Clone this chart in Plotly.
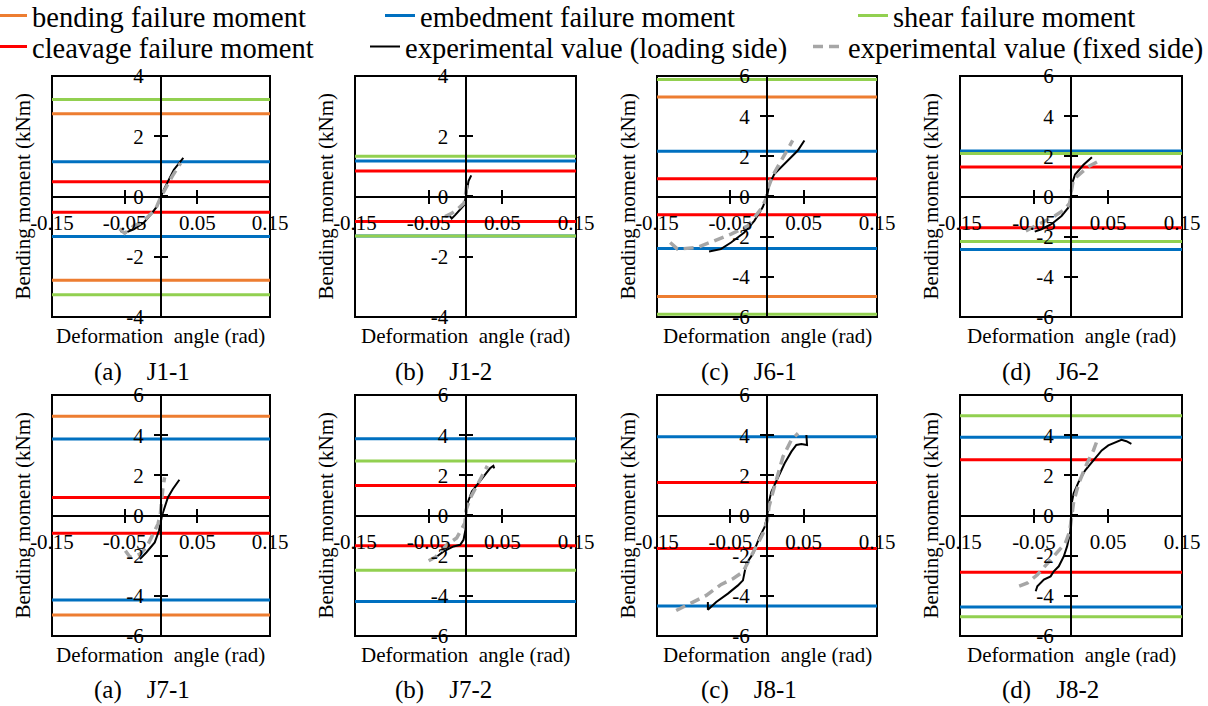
import plotly.graph_objects as go

W, H = 1208, 706
FONT = "Times New Roman, Liberation Serif, serif"

# ---------------- data ----------------
panel_captions = ["(a)\u00a0\u00a0\u00a0\u00a0J1-1", "(b)\u00a0\u00a0\u00a0\u00a0J1-2",
                  "(c)\u00a0\u00a0\u00a0\u00a0J6-1", "(d)\u00a0\u00a0\u00a0\u00a0J6-2",
                  "(a)\u00a0\u00a0\u00a0\u00a0J7-1", "(b)\u00a0\u00a0\u00a0\u00a0J7-2",
                  "(c)\u00a0\u00a0\u00a0\u00a0J8-1", "(d)\u00a0\u00a0\u00a0\u00a0J8-2"]
y_limits = [4, 4, 6, 6, 6, 6, 6, 6]
x_tick_vals = [-0.15, -0.05, 0.05, 0.15]
x_tick_text = ["-0.15", "-0.05", "0.05", "0.15"]

bending_pos = [2.75, None, 4.95, None, 4.94, None, None, None]
bending_neg = [-2.78, None, -4.98, None, -4.95, None, None, None]
embedment_pos = [1.15, 1.18, 2.25, 2.26, 3.81, 3.82, 3.92, 3.90]
embedment_neg = [-1.33, -1.31, -2.59, -2.64, -4.21, -4.28, -4.50, -4.55]
shear_pos = [3.22, 1.34, 5.82, 2.14, None, 2.71, None, 4.97]
shear_neg = [-3.26, -1.31, -5.86, -2.24, None, -2.72, None, -5.04]
cleavage_pos = [0.49, 0.85, 0.89, 1.47, 0.90, 1.50, 1.64, 2.78]
cleavage_neg = [-0.52, -0.83, -0.91, -1.55, -0.89, -1.51, -1.64, -2.83]

loading_x = [
    [-0.056, -0.049, -0.0376, -0.0237, -0.0122, -0.0053, 0, 0.0039, 0.0108, 0.0177, 0.0307],
    [-0.0223, -0.0187, -0.0141, -0.0073, -0.0018, 0.0005, 0.0018, 0.0041, 0.0078],
    [-0.079, -0.063, -0.049, -0.031, -0.0173, -0.0059, 0, 0.0032, 0.010, 0.019, 0.033, 0.042, 0.051],
    [-0.049, -0.040, -0.0265, -0.0128, -0.0037, 0, 0.0009, 0.0055, 0.0169, 0.0283],
    [-0.029, -0.0199, -0.0086, -0.0027, 0.0014, 0.005, 0.0095, 0.0163, 0.0253],
    [-0.0477, -0.0387, -0.0297, -0.0162, -0.0072, -0.0027, 0, 0.0005, 0.0027, 0.0086, 0.0176, 0.0279, 0.0333, 0.0378, 0.039],
    [-0.0806, -0.0806, -0.0692, -0.0533, -0.0396, -0.0328, -0.0282, -0.0191, -0.010, -0.0032, 0, 0.0027, 0.0059, 0.015, 0.0241, 0.0332, 0.040, 0.0469, 0.0546, 0.0537],
    [-0.0477, -0.0455, -0.0366, -0.0276, -0.0232, -0.0165, -0.0098, -0.0053, -0.0009, 0.0004, 0.0013, 0.0036, 0.0103, 0.0192, 0.0303, 0.0415, 0.0504, 0.0593, 0.0682, 0.0749, 0.0816],
]
loading_y = [
    [-1.15, -1.20, -1.09, -0.87, -0.54, -0.32, 0, 0.23, 0.56, 0.89, 1.28],
    [-0.62, -0.73, -0.62, -0.45, -0.28, 0, 0.22, 0.51, 0.70],
    [-2.74, -2.62, -2.29, -1.79, -1.21, -0.54, 0, 0.62, 1.12, 1.46, 1.96, 2.29, 2.79],
    [-1.75, -1.63, -1.38, -0.97, -0.56, 0, 0.59, 1.09, 1.58, 1.96],
    [-2.17, -1.83, -1.34, -0.75, 0, 0.41, 0.90, 1.32, 1.78],
    [-2.20, -2.04, -1.79, -1.54, -1.46, -1.21, -0.71, -0.05, 0.61, 1.19, 1.61, 2.07, 2.35, 2.47, 2.35],
    [-4.31, -4.69, -4.31, -3.89, -3.48, -3.23, -2.40, -1.90, -1.06, -0.57, -0.07, 0.68, 1.18, 1.85, 2.60, 3.18, 3.51, 3.56, 3.51, 4.01],
    [-3.77, -3.52, -3.19, -3.03, -2.78, -2.53, -2.04, -1.54, -0.80, -0.06, 0.68, 1.10, 1.67, 2.25, 2.75, 3.24, 3.49, 3.65, 3.77, 3.70, 3.57],
]
fixed_x = [
    [-0.057, -0.050, -0.0376, -0.026, -0.017, -0.0076, -0.0007, 0.0062, 0.0154, 0.027],
    [-0.0278, -0.0187, -0.0096, -0.0018, 0, 0.0018],
    [-0.132, -0.122, -0.095, -0.072, -0.049, -0.026, -0.0173, -0.0082, -0.0014, 0.0018, 0.0078, 0.0169, 0.028, 0.035],
    [-0.061, -0.049, -0.0357, -0.022, -0.0082, -0.0014, 0, 0.0032, 0.0238, 0.0366],
    [-0.049, -0.0425, -0.029, -0.0199, -0.0109, -0.0041, -0.0009, 0.0005, 0.0027, 0.005],
    [-0.050, -0.040, -0.025, -0.012, -0.0009, 0.0009, 0.0063, 0.0153, 0.0221, 0.0297],
    [-0.1238, -0.1147, -0.0988, -0.0828, -0.0624, -0.0464, -0.0328, -0.0214, -0.0146, -0.0055, 0.0005, 0.0027, 0.0082, 0.0218, 0.0332, 0.0423],
    [-0.070, -0.0588, -0.0455, -0.0321, -0.0187, -0.0076, -0.0018, 0.0009, 0.0036, 0.0103, 0.0214, 0.0303, 0.037],
]
fixed_y = [
    [-1.07, -1.22, -0.98, -0.85, -0.65, -0.43, -0.04, 0.29, 0.67, 1.11],
    [-0.67, -0.56, -0.39, -0.22, 0.06, 0.39],
    [-2.29, -2.62, -2.54, -2.20, -1.87, -1.46, -1.04, -0.62, -0.12, 0.46, 1.04, 1.62, 2.37, 2.79],
    [-1.71, -1.47, -1.25, -0.97, -0.64, -0.31, 0.18, 0.84, 1.50, 1.75],
    [-1.75, -2.08, -1.92, -1.58, -0.92, -0.42, 0.07, 0.74, 1.40, 1.90],
    [-2.25, -2.05, -1.45, -1.12, -0.38, 0.28, 0.86, 1.44, 1.94, 2.47],
    [-4.73, -4.56, -4.23, -3.98, -3.43, -3.15, -2.81, -1.98, -1.56, -0.90, -0.23, 0.43, 1.18, 2.93, 3.76, 4.09],
    [-3.52, -3.36, -2.95, -2.37, -1.79, -1.37, -0.80, -0.06, 0.68, 1.59, 2.58, 3.24, 3.90],
]

series_names = ["bending failure moment", "embedment failure moment", "shear failure moment",
                "cleavage failure moment", "experimental value (loading side)",
                "experimental value (fixed side)"]
series_colors = ["#ED7D31", "#0070C0", "#92D050", "#FF0000", "#000000", "#A6A6A6"]

# ---------------- layout geometry (px) ----------------
col_px = [(52, 270), (355, 576), (657, 877), (960, 1182)]
row_px = [(76, 317), (395, 636)]
caption_y_px = [372, 690]
caption_x_px = [142, 443, 749, 1050]


def fx(px):
    return px / W


def fy(py):
    return 1 - py / H


fig = go.Figure()
layout = dict(
    width=W, height=H, margin=dict(l=0, r=0, t=0, b=0, pad=0, autoexpand=False),
    paper_bgcolor="white", plot_bgcolor="white", template="none",
    font=dict(family=FONT, color="black"),
    annotations=[], shapes=[],
)

legend_names = ["legend", "legend2", "legend3", "legend4", "legend5", "legend6"]
legend_text_x_px = [32, 420, 893, 32, 405, 848]
legend_y_px = [16, 16, 16, 47, 47, 47]
for k, ln in enumerate(legend_names):
    layout[ln] = dict(
        x=fx(legend_text_x_px[k] - 40), y=fy(legend_y_px[k]), xanchor="left", yanchor="middle",
        orientation="h", bgcolor="rgba(0,0,0,0)", borderwidth=0,
        font=dict(family=FONT, size=28.5, color="black"),
    )

hline_sets = [(bending_pos, bending_neg), (embedment_pos, embedment_neg),
              (shear_pos, shear_neg), (cleavage_pos, cleavage_neg)]

for i in range(8):
    r, c = divmod(i, 4)
    x0, x1 = col_px[c]
    y0, y1 = row_px[r]
    ax = "" if i == 0 else str(i + 1)
    xref, yref = "x" + ax, "y" + ax
    dom_x = [fx(x0), fx(x1)]
    dom_y = [fy(y1), fy(y0)]
    ylim = y_limits[i]
    y_tick_vals = list(range(-ylim, ylim + 1, 2))
    y_tick_text = [str(v) for v in y_tick_vals]

    layout["xaxis" + ax] = dict(
        domain=dom_x, range=[-0.15, 0.15], anchor="free", position=(dom_y[0] + dom_y[1]) / 2,
        tickvals=x_tick_vals, ticktext=x_tick_text, showgrid=False, zeroline=False,
        showline=True, linecolor="black", linewidth=2, ticks="outside", ticklen=6,
        tickwidth=2, tickcolor="black", ticklabelstandoff=1, automargin=False,
        tickfont=dict(family=FONT, size=21, color="black"), fixedrange=True,
        minor=dict(tickmode="array", tickvals=[v + 0.0002 for v in x_tick_vals], ticks="inside",
                   ticklen=6, tickwidth=2, tickcolor="black", showgrid=False),
    )
    layout["yaxis" + ax] = dict(
        domain=dom_y, range=[-ylim, ylim], anchor="free", position=(dom_x[0] + dom_x[1]) / 2,
        tickvals=y_tick_vals, ticktext=y_tick_text, showgrid=False, zeroline=False,
        showline=True, linecolor="black", linewidth=2, ticks="outside", ticklen=6,
        tickwidth=2, tickcolor="black", ticklabelstandoff=6, automargin=False,
        tickfont=dict(family=FONT, size=21, color="black"), fixedrange=True,
        minor=dict(tickmode="array", tickvals=[v + 0.004 for v in y_tick_vals], ticks="inside",
                   ticklen=6, tickwidth=2, tickcolor="black", showgrid=False),
    )

    # reference (failure moment) lines
    for s, (pos, neg) in enumerate(hline_sets):
        for j, vals in enumerate((pos, neg)):
            v = vals[i]
            if v is None:
                continue
            show = (i == 0 and j == 0)
            fig.add_trace(go.Scatter(
                x=[-0.15, 0.15], y=[v, v], mode="lines", xaxis=xref, yaxis=yref,
                line=dict(color=series_colors[s], width=3), name=series_names[s],
                legend=legend_names[s], showlegend=show, hoverinfo="skip",
            ))

    fig.add_trace(go.Scatter(
        x=loading_x[i], y=loading_y[i], mode="lines", xaxis=xref, yaxis=yref,
        line=dict(color=series_colors[4], width=2), name=series_names[4],
        legend=legend_names[4], showlegend=(i == 0), hoverinfo="skip",
    ))
    fig.add_trace(go.Scatter(
        x=fixed_x[i], y=fixed_y[i], mode="lines", xaxis=xref, yaxis=yref,
        line=dict(color=series_colors[5], width=3.5, dash="10px,6px"), name=series_names[5],
        legend=legend_names[5], showlegend=(i == 0), hoverinfo="skip",
    ))

    # frame
    layout["shapes"].append(dict(
        type="rect", xref=xref + " domain", yref=yref + " domain", x0=0, x1=1, y0=0, y1=1,
        line=dict(color="black", width=2), layer="below",
    ))
    # axis titles and caption
    layout["annotations"].append(dict(
        text="Deformation\u00a0 angle (rad)", xref="paper", yref="paper",
        x=fx((x0 + x1) / 2), y=fy(y1 + 19), xanchor="center", yanchor="middle",
        showarrow=False, font=dict(family=FONT, size=21, color="black"),
    ))
    layout["annotations"].append(dict(
        text="Bending moment (kNm)", xref="paper", yref="paper", textangle=-90,
        x=fx(x0 - 30), y=fy((y0 + y1) / 2), xanchor="center", yanchor="middle",
        showarrow=False, font=dict(family=FONT, size=21, color="black"),
    ))
    layout["annotations"].append(dict(
        text=panel_captions[i], xref="paper", yref="paper",
        x=fx(caption_x_px[c]), y=fy(caption_y_px[r]), xanchor="center", yanchor="middle",
        showarrow=False, font=dict(family=FONT, size=25, color="black"),
    ))

fig.update_layout(**layout)
fig.write_html("out.html", config={"displayModeBar": False},
               post_script="document.body.style.margin='0';document.body.style.overflow='hidden';")
